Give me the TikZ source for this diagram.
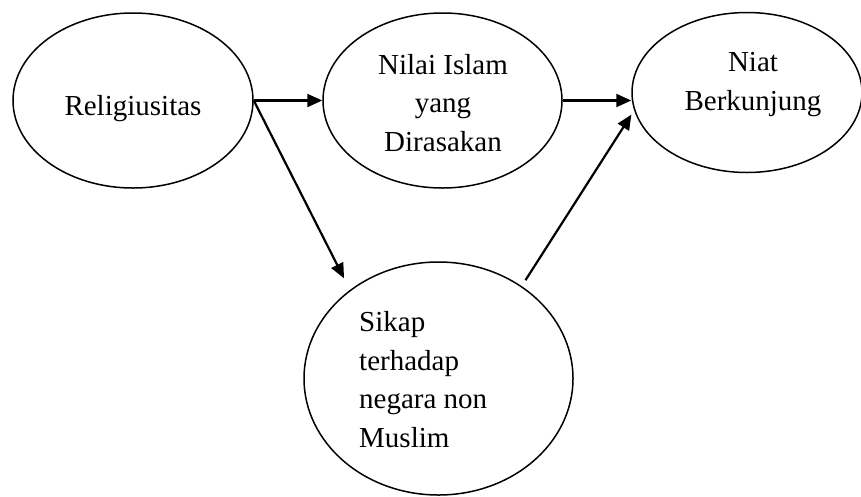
\documentclass[tikz,border=0pt]{standalone}
\usepackage{fontspec}
\setmainfont{Liberation Serif}
\usetikzlibrary{arrows.meta,shapes.geometric}

\begin{document}
\begin{tikzpicture}[
  x=1pt,y=-1pt,
  varell/.style={draw,ellipse,line width=1.5pt,inner sep=0pt},
  lbl/.style={font=\fontsize{29}{38.5}\selectfont,inner sep=0pt,anchor=base},
  arr/.style={-{Triangle[length=15pt,width=13pt]},line width=2.2pt}
]
  \useasboundingbox (0,0) rectangle (861,496);
  % variables
  \node[varell,minimum width=240pt,minimum height=175pt] (rel) at (133,100.5) {};
  \node[varell,minimum width=239pt,minimum height=175pt] (nilai) at (442.5,100.5) {};
  \node[varell,minimum width=230pt,minimum height=160pt] (niat) at (747,92.5) {};
  \node[varell,minimum width=269pt,minimum height=233pt] (sikap) at (438.5,378.5) {};
  % labels (base = last line)
  \node[lbl] (rel-t) at (133,115) {Religiusitas};
  \node[lbl,align=center] (nilai-t) at (443,151) {Nilai Islam\\yang\\Dirasakan};
  \node[lbl,align=center] (niat-t) at (753,110) {Niat\\Berkunjung};
  \node[lbl,align=left,anchor=base west] (sikap-t) at (359,447) {Sikap\\terhadap\\negara non\\Muslim};
  % paths
  \draw[arr] (rel.east) -- (nilai.west);
  \draw[arr] (nilai.east) -- (nilai.east -| niat.west);
  \draw[arr,shorten >=13pt] (rel.east) -- (sikap.135);
  \draw[arr,shorten <=7pt,shorten >=5pt] (sikap.48) -- (niat.189);
\end{tikzpicture}
\end{document}
